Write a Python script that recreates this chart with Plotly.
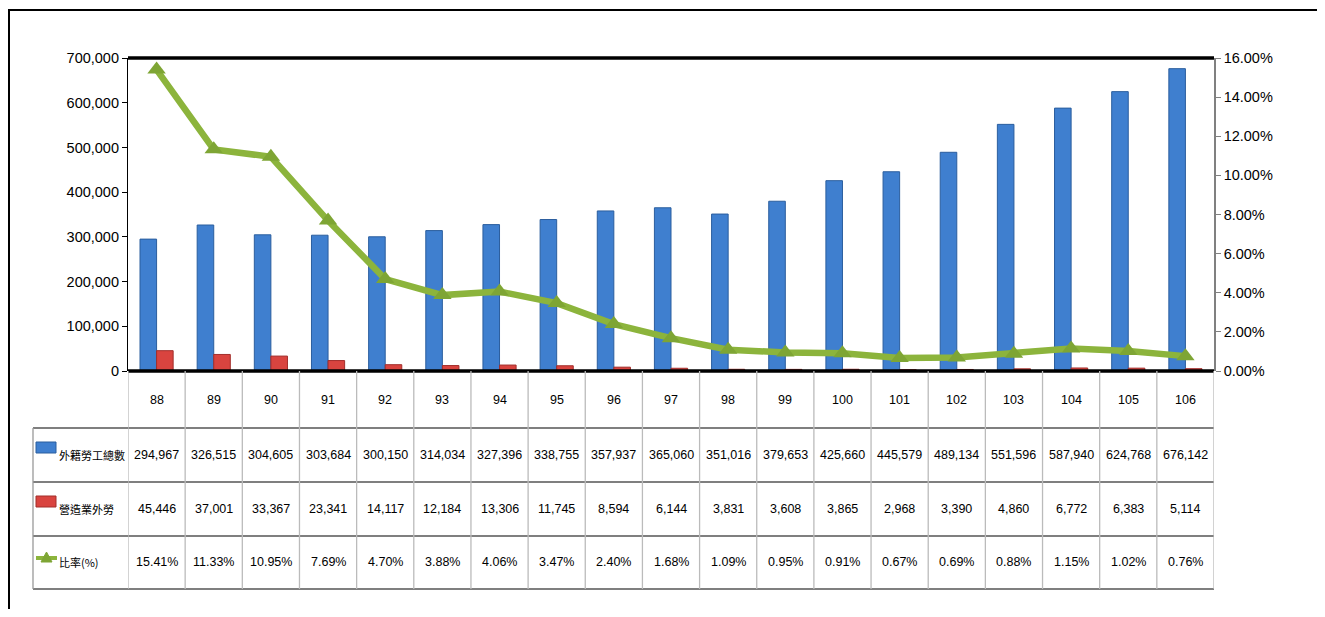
import plotly.graph_objects as go

# ---------------- data ----------------
years = ["88", "89", "90", "91", "92", "93", "94", "95", "96", "97",
         "98", "99", "100", "101", "102", "103", "104", "105", "106"]
total_workers = [294967, 326515, 304605, 303684, 300150, 314034, 327396, 338755,
                 357937, 365060, 351016, 379653, 425660, 445579, 489134, 551596,
                 587940, 624768, 676142]
construction_workers = [45446, 37001, 33367, 23341, 14117, 12184, 13306, 11745,
                        8594, 6144, 3831, 3608, 3865, 2968, 3390, 4860, 6772,
                        6383, 5114]
ratio_pct = [15.41, 11.33, 10.95, 7.69, 4.70, 3.88, 4.06, 3.47, 2.40, 1.68,
             1.09, 0.95, 0.91, 0.67, 0.69, 0.88, 1.15, 1.02, 0.76]
series_names = ["外籍勞工總數", "營造業外勞", "比率(%)"]

# ---------------- layout helpers (window pixel coords -> paper) ----------------
OFF = 8  # page body margin
W, H = 1325 - 2 * OFF, 617 - 2 * OFF
PLOT_L, PLOT_R, PLOT_T, PLOT_B = 128, 1214, 58, 371  # window coords
L = PLOT_L - OFF
T = PLOT_T - OFF
R = W - (PLOT_R - OFF)
B = H - (PLOT_B - OFF)
PW, PH = PLOT_R - PLOT_L, PLOT_B - PLOT_T


def px(x):
    return (x - PLOT_L) / PW


def py(y):
    return (PLOT_B - y) / PH


NUM_FONT = "Liberation Sans, Arial, sans-serif"
CJK_FONT = "Noto Sans CJK TC, Noto Sans CJK SC, sans-serif"

BLUE = "#3F7FCF"
RED = "#D9443F"
GREEN = "#8CB43C"

fig = go.Figure()
fig.add_trace(go.Bar(x=years, y=total_workers, name=series_names[0],
                     marker=dict(color=BLUE, line=dict(color="#2B5E9E", width=1))))
fig.add_trace(go.Bar(x=years, y=construction_workers, name=series_names[1],
                     marker=dict(color=RED, line=dict(color="#A22E2B", width=1))))
fig.add_trace(go.Scatter(x=years, y=[v / 100 for v in ratio_pct], name=series_names[2],
                         yaxis="y2", mode="lines+markers",
                         line=dict(color=GREEN, width=6.5),
                         marker=dict(symbol="triangle-up", size=16, color="#7EA534")))

shapes = []
annotations = []

# plot area top and bottom thick borders
for yy in (0, 1):
    shapes.append(dict(type="line", xref="paper", yref="paper", x0=0, x1=1, y0=yy, y1=yy,
                       line=dict(color="black", width=3.5), layer="above"))

# outer frame (top + left visible)
shapes.append(dict(type="rect", xref="paper", yref="paper",
                   x0=px(9), x1=px(1360), y0=py(10), y1=py(660),
                   line=dict(color="black", width=2)))

# table grid
row_lines = [428, 482, 536, 589]
for yy in row_lines:
    shapes.append(dict(type="line", xref="paper", yref="paper", x0=px(33), x1=1,
                       y0=py(yy), y1=py(yy), line=dict(color="#555555", width=1.5)))
for i in range(len(years) + 1):
    shapes.append(dict(type="line", xref="x", yref="paper", x0=i - 0.5, x1=i - 0.5,
                       y0=0, y1=py(589), line=dict(color="#BBBBBB", width=1.3)))
shapes.append(dict(type="line", xref="paper", yref="paper", x0=px(33), x1=px(33),
                   y0=py(428), y1=py(589), line=dict(color="#999999", width=1.3)))

# legend keys in the table
shapes.append(dict(type="rect", xref="paper", yref="paper", x0=px(36), x1=px(56),
                   y0=py(453), y1=py(442), fillcolor=BLUE, line=dict(color="#2B5E9E", width=1)))
shapes.append(dict(type="rect", xref="paper", yref="paper", x0=px(36), x1=px(56),
                   y0=py(507), y1=py(496), fillcolor=RED, line=dict(color="#A22E2B", width=1)))
shapes.append(dict(type="line", xref="paper", yref="paper", x0=px(36), x1=px(57),
                   y0=py(558), y1=py(558), line=dict(color=GREEN, width=4)))
shapes.append(dict(type="path", xref="paper", yref="paper",
                   path=f"M {px(41)},{py(562)} L {px(52)},{py(562)} L {px(46.5)},{py(552)} Z",
                   fillcolor="#7EA534", line=dict(color="#7EA534", width=1)))

row_y = [400, 455, 509, 562]
for k, name in enumerate(series_names):
    annotations.append(dict(xref="paper", yref="paper", x=px(57), y=py(row_y[k + 1]),
                            text=name, showarrow=False, xanchor="left", yanchor="middle",
                            font=dict(family=CJK_FONT, size=11, color="black")))

for i, yr in enumerate(years):
    cells = [yr, f"{total_workers[i]:,}", f"{construction_workers[i]:,}", f"{ratio_pct[i]:.2f}%"]
    for k, txt in enumerate(cells):
        annotations.append(dict(xref="x", yref="paper", x=i, y=py(row_y[k]), text=txt,
                                showarrow=False, xanchor="center", yanchor="middle",
                                font=dict(family=NUM_FONT, size=12.5, color="black")))

fig.update_layout(
    width=W, height=H,
    margin=dict(l=L, r=R, t=T, b=B),
    paper_bgcolor="white", plot_bgcolor="white",
    barmode="group", bargap=0.42, bargroupgap=0,
    showlegend=False,
    font=dict(family=NUM_FONT, size=14, color="black"),
    xaxis=dict(type="category", range=[-0.5, len(years) - 0.5], showticklabels=False,
               showline=False, ticks="", showgrid=False, zeroline=False),
    yaxis=dict(range=[0, 700000], tickvals=list(range(0, 700001, 100000)), tickformat=",",
               ticks="outside", ticklen=5, tickcolor="black", showline=True,
               linecolor="black", linewidth=1.2, showgrid=False, zeroline=False,
               tickfont=dict(family=NUM_FONT, size=14.5, color="black")),
    yaxis2=dict(range=[0, 0.16], dtick=0.02, tick0=0, tickformat=".2%", overlaying="y",
                side="right", ticks="outside", ticklen=5, tickcolor="#808080",
                showline=True, linecolor="#808080", linewidth=1.5, showgrid=False,
                zeroline=False, tickfont=dict(family=NUM_FONT, size=14.5, color="black")),
    shapes=shapes,
    annotations=annotations,
)

fig.write_html("out.html")
